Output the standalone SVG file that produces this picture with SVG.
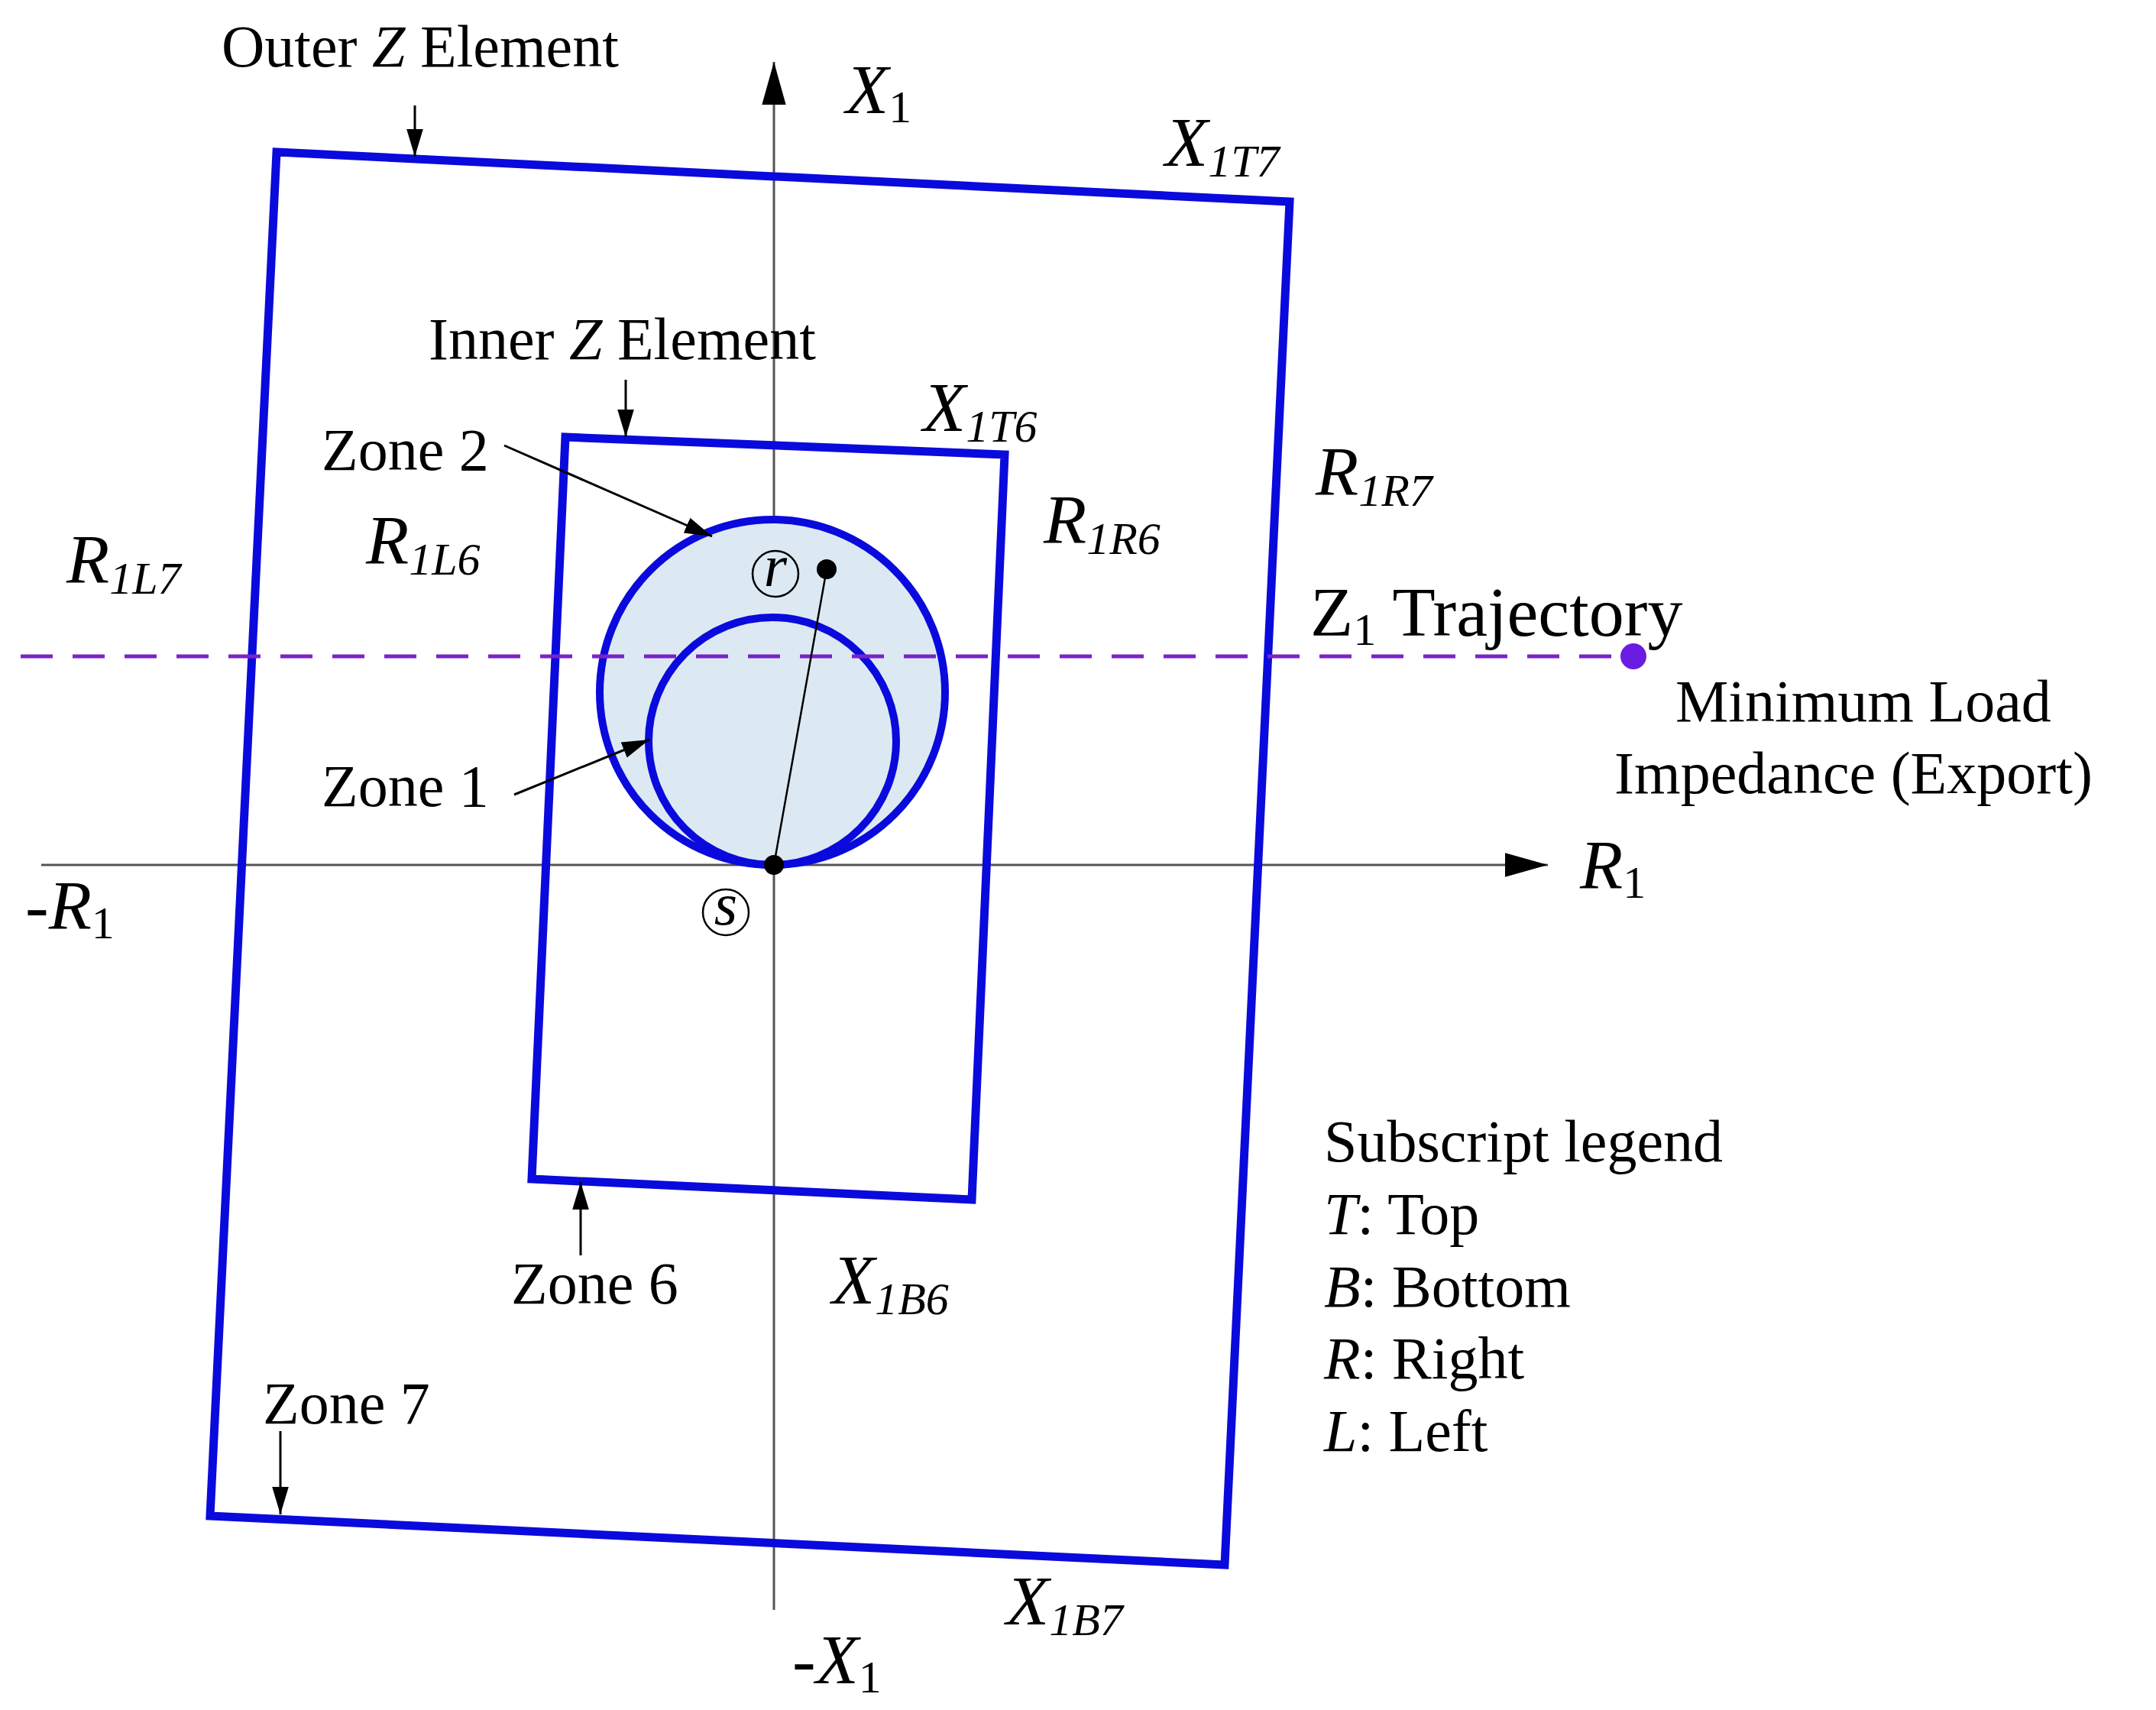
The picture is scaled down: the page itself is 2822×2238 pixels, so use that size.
<svg xmlns="http://www.w3.org/2000/svg" width="2822" height="2238" viewBox="0 0 2822 2238">
<style>
text{font-family:"Liberation Serif",serif;fill:#000;font-size:78px}
.i{font-style:italic}
.lab{font-size:92px}
.sub{font-size:60px;font-style:italic}
.zone{fill:none;stroke:#0a0adc;stroke-width:11;stroke-linejoin:miter}
.ax{stroke:#555;stroke-width:3;fill:none;marker-end:url(#big)}
.ar{stroke:#000;stroke-width:3;fill:none;marker-end:url(#ah2)}
</style>
<defs>
<marker id="big" viewBox="0 0 10 10" refX="10" refY="5" markerWidth="56" markerHeight="56" markerUnits="userSpaceOnUse" orient="auto"><path d="M0,2.2 L10,5 L0,7.8 z" fill="#000"/></marker>
<marker id="ah2" viewBox="0 0 10 10" refX="10" refY="5" markerWidth="36" markerHeight="36" markerUnits="userSpaceOnUse" orient="auto"><path d="M0,2 L10,5 L0,8 z" fill="#000"/></marker>
</defs>
<rect width="2822" height="2238" fill="#fff"/>
<g id="axes">
<line class="ax" x1="54" y1="1132" x2="2026" y2="1132"/>
<line class="ax" x1="1013" y1="2107" x2="1013" y2="81"/>
</g>
<g id="zone7"><polygon class="zone" points="362,199 1688,264 1603,2048 275,1984"/></g>
<g id="zone6"><polygon class="zone" points="740,572 1315,595 1272,1570 696,1543"/></g>
<g id="zone2"><circle cx="1011" cy="906" r="226" fill="#dce9f2" stroke="#0a0adc" stroke-width="10"/></g>
<g id="zone1"><circle cx="1011" cy="970" r="162" fill="none" stroke="#0a0adc" stroke-width="10"/></g>
<g id="trajectory">
<line x1="27" y1="859" x2="2138" y2="859" stroke="#7b22c8" stroke-width="5" stroke-dasharray="42,26"/>
<circle cx="2138" cy="859" r="17" fill="#6a1de0"/>
</g>
<g id="connectors">
<line x1="1013" y1="1132" x2="1082" y2="745" stroke="#000" stroke-width="2.5"/>
<circle cx="1013" cy="1132" r="13" fill="#000"/>
<circle cx="1082" cy="745" r="13" fill="#000"/>
<line class="ar" x1="543" y1="138" x2="543" y2="205"/>
<line class="ar" x1="819" y1="497" x2="819" y2="572"/>
<line class="ar" x1="660" y1="583" x2="932" y2="702"/>
<line class="ar" x1="673" y1="1040" x2="850" y2="968"/>
<line class="ar" x1="760" y1="1643" x2="760" y2="1547"/>
<line class="ar" x1="367" y1="1873" x2="367" y2="1982"/>
</g>
<g id="labels">
<text x="290" y="87">Outer <tspan class="i">Z</tspan> Element</text>
<text x="561" y="470">Inner <tspan class="i">Z</tspan> Element</text>
<text x="421" y="615">Zone 2</text>
<text x="421" y="1055">Zone 1</text>
<text x="669" y="1706">Zone 6</text>
<text x="344" y="1863">Zone 7</text>
<text class="lab i" x="1107" y="148">X<tspan font-size="60" font-style="normal" dy="12">1</tspan></text>
<text class="lab i" x="1525" y="217">X<tspan class="sub" dy="14">1T7</tspan></text>
<text class="lab i" x="1208" y="564">X<tspan class="sub" dy="14">1T6</tspan></text>
<text class="lab i" x="479" y="738">R<tspan class="sub" dy="14">1L6</tspan></text>
<text class="lab i" x="87" y="763">R<tspan class="sub" dy="14">1L7</tspan></text>
<text class="lab i" x="1366" y="711">R<tspan class="sub" dy="14">1R6</tspan></text>
<text class="lab i" x="1722" y="648">R<tspan class="sub" dy="14">1R7</tspan></text>
<text class="lab i" x="1089" y="1706">X<tspan class="sub" dy="14">1B6</tspan></text>
<text class="lab i" x="1317" y="2126">X<tspan class="sub" dy="14">1B7</tspan></text>
<text class="lab" x="33" y="1216">-<tspan class="i">R</tspan><tspan font-size="60" dy="12">1</tspan></text>
<text class="lab i" x="2068" y="1163">R<tspan font-size="60" font-style="normal" dy="12">1</tspan></text>
<text class="lab" x="1037" y="2203">-<tspan class="i">X</tspan><tspan font-size="60" dy="12">1</tspan></text>
<text class="lab" x="1715" y="832">Z<tspan font-size="60" dy="12">1</tspan><tspan dy="-12"> Trajectory</tspan></text>
<text x="2193" y="944">Minimum Load</text>
<text x="2113" y="1038">Impedance (Export)</text>
<circle cx="1015" cy="751" r="30" fill="none" stroke="#000" stroke-width="2.5"/>
<text class="i" x="1015" y="767" text-anchor="middle" font-size="50">r</text>
<circle cx="950" cy="1194" r="30" fill="none" stroke="#000" stroke-width="2.5"/>
<text class="i" x="950" y="1210" text-anchor="middle" font-size="50">s</text>
</g>
<g id="legend">
<text x="1733" y="1520">Subscript legend</text>
<text x="1733" y="1615"><tspan class="i">T</tspan>: Top</text>
<text x="1733" y="1710"><tspan class="i">B</tspan>: Bottom</text>
<text x="1733" y="1804"><tspan class="i">R</tspan>: Right</text>
<text x="1733" y="1899"><tspan class="i">L</tspan>: Left</text>
</g>
</svg>
